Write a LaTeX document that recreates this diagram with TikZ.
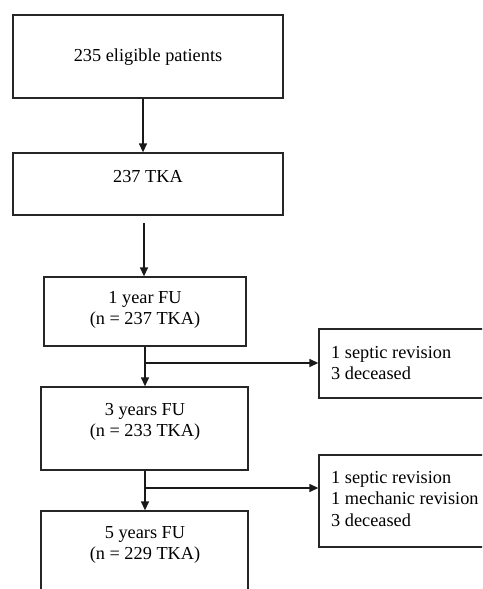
\documentclass[tikz,border=0pt]{standalone}
\usepackage{fontspec}
\setmainfont{Liberation Serif}
\usetikzlibrary{arrows.meta}
\begin{document}
\begin{tikzpicture}[x=1pt,y=-1pt,
  box/.style={draw=black!85,line width=1.3pt,inner sep=0pt,minimum width=#1},
  txt/.style={font=\fontsize{18.3}{21}\selectfont,align=center,inner sep=0pt},
  stxt/.style={font=\fontsize{18.3}{21.5}\selectfont,align=left,inner sep=0pt,anchor=west},
  arr/.style={draw=black!90,line width=1.3pt,-{Triangle[length=9pt,width=8pt]}},
  ln/.style={draw=black!90,line width=1.3pt}]
\useasboundingbox (0,0) rectangle (482,589);
\clip (0,0) rectangle (482,589);
% main boxes
\node[box=270pt,minimum height=83pt] (b1) at (148,56.5) {};
\node[box=270pt,minimum height=62pt] (b2) at (148,184) {};
\node[box=202pt,minimum height=69pt] (b3) at (145,311.5) {};
\node[box=207pt,minimum height=83pt] (b4) at (144.5,428.5) {};
\node[box=207pt,minimum height=100pt] (b5) at (144.5,561) {};
% side boxes
\node[box=200pt,minimum height=69pt] (s1) at (419,363.5) {};
\node[box=200pt,minimum height=92pt] (s2) at (419,501) {};
% texts
\node[txt] (t1) at (148,57) {235 eligible patients};
\node[txt] (t2) at (148,177) {237 TKA};
\node[txt] (t3) at (145,309.5) {1 year FU\\(n = 237 TKA)};
\node[txt] (t4) at (145,421.5) {3 years FU\\(n = 233 TKA)};
\node[txt] (t5) at (145,544.5) {5 years FU\\(n = 229 TKA)};
\node[stxt] (t6) at (331,363) {1 septic revision\\3 deceased};
\node[stxt] (t7) at (331,499) {1 septic revision\\1 mechanic revision\\3 deceased};
% connectors
\coordinate (c0) at (144,223);
\coordinate (j1) at (145,363);
\coordinate (j2) at (145,488);
\draw[arr] (b1.south -| 143,0) -- (b2.north -| 143,0);
\draw[arr] (c0) -- (b3.north -| c0);
\draw[arr] (b3.south -| j1) -- (b4.north -| j1);
\draw[arr] (j1) -- (s1.west |- j1);
\draw[arr] (b4.south -| j2) -- (b5.north -| j2);
\draw[arr] (j2) -- (s2.west |- j2);
\end{tikzpicture}
\end{document}
